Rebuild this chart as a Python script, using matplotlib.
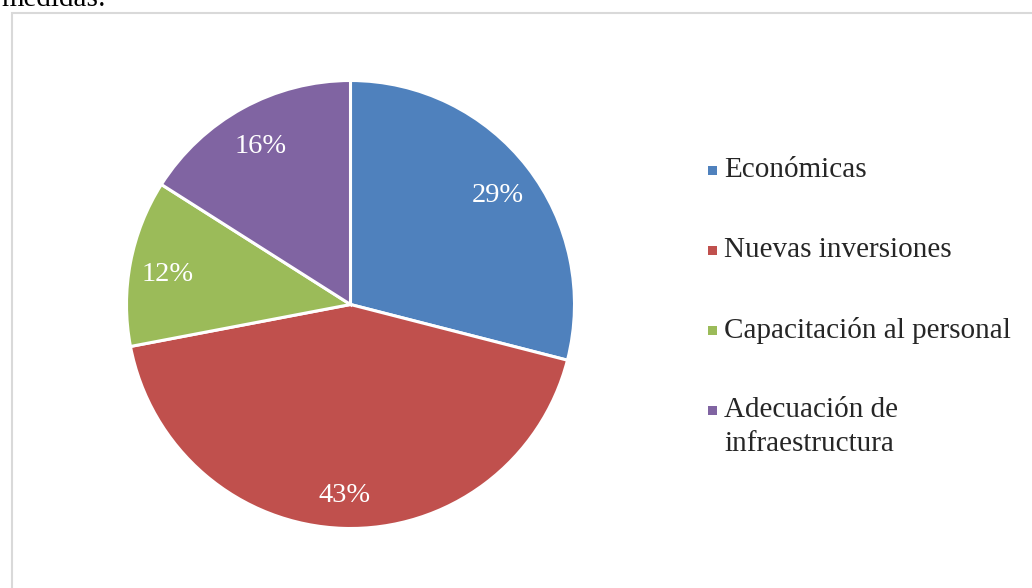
import matplotlib
matplotlib.use("Agg")
import matplotlib.pyplot as plt
import matplotlib.transforms as mtransforms
from matplotlib.patches import Rectangle
from matplotlib.lines import Line2D

categories = ["Económicas", "Nuevas inversiones", "Capacitación al personal",
              "Adecuación de\ninfraestructura"]
values = [29, 43, 12, 16]
pct_labels = ["29%", "43%", "12%", "16%"]
colors = ["#4F81BD", "#C0504D", "#9BBB59", "#8064A2"]

W, H = 1032, 588
fig = plt.figure(figsize=(W / 100, H / 100), dpi=100)
ax = fig.add_axes([0, 0, 1, 1])
ax.set_aspect("equal")

serif = ["Liberation Serif", "DejaVu Serif"]

cx, cy, r = 350.5, H - 304.5, 224
wedges, texts, autotexts = ax.pie(values, colors=colors, startangle=90,
                                  counterclock=False, center=(cx, cy), radius=r,
                                  autopct="%d%%", pctdistance=0.83,
                                  wedgeprops=dict(edgecolor="white", linewidth=2.2),
                                  frame=True)
shift = mtransforms.ScaledTranslation(0, -5 / 100, fig.dpi_scale_trans)
for t, lab in zip(autotexts, pct_labels):
    t.set_text(lab)
    t.set_color("white")
    t.set_family(serif)
    t.set_fontsize(20.5)
    t.set_transform(ax.transData + shift)
ax.set_xlim(0, W)
ax.set_ylim(0, H)
ax.axis("off")

# frame (partial, as in screenshot)
ax.add_line(Line2D([11.5, 11.5, 1031], [0, H - 12.5, H - 12.5],
                   color="#d9d9d9", lw=1.5, solid_joinstyle="miter"))

# cut-off heading text
ax.text(1, H - 6, "medidas:", family=serif, fontsize=21, color="black",
        va="baseline", ha="left")

# legend (manual)
rows_y = [170, 250, 330, 410]
for lab, col, yy in zip(categories, colors, rows_y):
    ax.add_patch(Rectangle((707.5, H - yy - 4.5), 9, 9, facecolor=col, edgecolor="none"))
    lines = lab.split("\n")
    for k, line in enumerate(lines):
        ax.text(724, H - yy - 34 * k, line, family=serif, fontsize=21, color="#262626",
                va="center", ha="left")

fig.savefig("out.png", dpi=100)
